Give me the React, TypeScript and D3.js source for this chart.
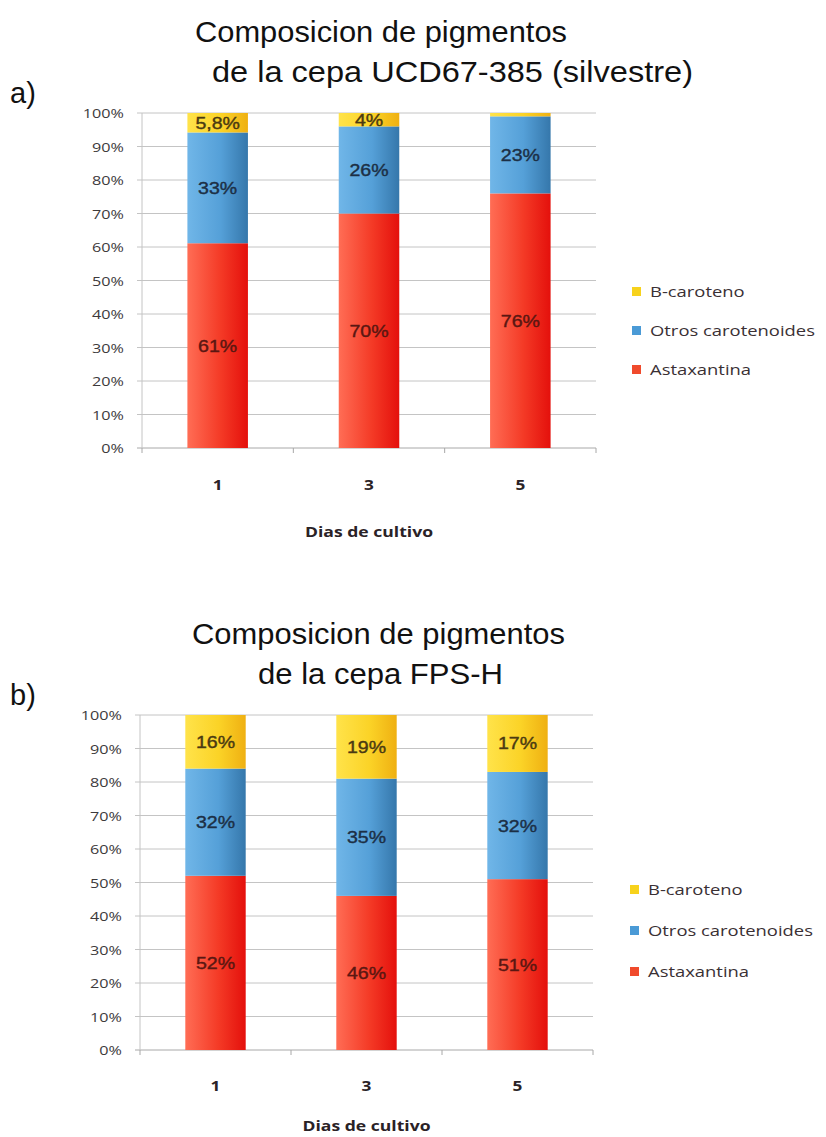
import React from 'react';
import * as d3 from 'd3';

// ---------- data ----------
const CATEGORIES = ['1', '3', '5'];
const SERIES = ['Astaxantina', 'Otros carotenoides', 'B-caroteno'];
const LEGEND_ORDER = ['B-caroteno', 'Otros carotenoides', 'Astaxantina'];

const A_ASTAXANTINA = [61, 70, 76];
const A_OTROS = [33, 26, 23];
const A_BETA = [5.8, 4, 1];

const B_ASTAXANTINA = [52, 46, 51];
const B_OTROS = [32, 35, 32];
const B_BETA = [16, 19, 17];

const Y_TICK_VALUES = [0, 0.1, 0.2, 0.3, 0.4, 0.5, 0.6, 0.7, 0.8, 0.9, 1];
const Y_TICK_LABELS = ['0%', '10%', '20%', '30%', '40%', '50%', '60%', '70%', '80%', '90%', '100%'];

const TITLE_A = ['Composicion de pigmentos', 'de la cepa UCD67-385 (silvestre)'];
const TITLE_B = ['Composicion de pigmentos', 'de la cepa FPS-H'];
const X_TITLE = 'Dias de cultivo';

const COLORS: Record<string, string[]> = {
  Astaxantina: ['#ff6d55', '#f43a26', '#e4100c'],
  'Otros carotenoides': ['#70b6e8', '#55a0d8', '#3577ab'],
  'B-caroteno': ['#ffe34a', '#fbd327', '#efb012'],
};
const LABEL_COLORS: Record<string, string> = {
  Astaxantina: '#5a1712',
  'Otros carotenoides': '#1c2f45',
  'B-caroteno': '#4a3a12',
};
const LEGEND_SWATCH: Record<string, string> = {
  Astaxantina: '#f04a2c',
  'Otros carotenoides': '#4a9ad6',
  'B-caroteno': '#f7d21c',
};

function fmt(v: number) {
  return (Number.isInteger(v) ? String(v) : String(v).replace('.', ',')) + '%';
}

type PanelProps = {
  id: string;
  astax: number[];
  otros: number[];
  beta: number[];
  left: number;
  right: number;
  top: number;
  bottom: number;
  title: string[];
  titleX: number[];
  titleW: number[];
  titleY: number[];
  letter: string;
  letterY: number;
  xLabelY: number;
  xTitleY: number;
  legendX: number;
  legendY: number[];
};

function SText(props: any) {
  const { x, y, sx = 1, children, ...rest } = props;
  return (
    <text transform={`translate(${x},${y}) scale(${sx},1)`} {...rest}>
      {children}
    </text>
  );
}

function Panel(p: PanelProps) {
  const rows = CATEGORIES.map((c, i) => ({
    cat: c,
    Astaxantina: p.astax[i],
    'Otros carotenoides': p.otros[i],
    'B-caroteno': p.beta[i],
  }));
  const stack = d3.stack<any>().keys(SERIES).offset(d3.stackOffsetExpand);
  const layers = stack(rows);
  const x = d3
    .scaleBand<string>()
    .domain(CATEGORIES)
    .range([p.left, p.right])
    .paddingInner(0.6)
    .paddingOuter(0.3);
  const step = x.step();
  const y = d3.scaleLinear().domain([0, 1]).range([p.bottom, p.top]);

  const tickFont = '"Open Sans", sans-serif';

  return (
    <g>
      <defs>
        {SERIES.map((s) => (
          <linearGradient key={s} id={`${p.id}-g-${s.replace(/\s/g, '')}`} x1="0" x2="1" y1="0" y2="0">
            <stop offset="0" stopColor={COLORS[s][0]} />
            <stop offset="0.55" stopColor={COLORS[s][1]} />
            <stop offset="1" stopColor={COLORS[s][2]} />
          </linearGradient>
        ))}
      </defs>

      {/* titles */}
      {p.title.map((t, i) => (
        <text
          key={i}
          x={p.titleX[i]}
          y={p.titleY[i]}
          fontFamily='"Liberation Sans", Arial, sans-serif'
          fontSize={30}
          fill="#111"
          textLength={p.titleW[i]}
          lengthAdjust="spacingAndGlyphs"
        >
          {t}
        </text>
      ))}
      <text x={10} y={p.letterY} fontFamily='"Liberation Sans", Arial, sans-serif' fontSize={29} fill="#111">
        {p.letter}
      </text>

      {/* gridlines */}
      {Y_TICK_VALUES.map((v, i) => (
        <g key={i}>
          <line x1={p.left - 5} x2={p.right} y1={y(v)} y2={y(v)} stroke={v === 0 ? '#a8a8a8' : '#c4c4c4'} strokeWidth={1} />
          <SText
            x={p.left - 18}
            y={y(v) + 5}
            sx={1.2}
            textAnchor="end"
            fontFamily={tickFont}
            fontSize={13.5}
            fill="#3d3a3c"
          >
            {Y_TICK_LABELS[i]}
          </SText>
        </g>
      ))}
      <line x1={p.left} x2={p.left} y1={p.top} y2={p.bottom} stroke="#c4c4c4" />
      {d3.range(CATEGORIES.length + 1).map((k) => (
        <line
          key={k}
          x1={p.left + k * step}
          x2={p.left + k * step}
          y1={p.bottom}
          y2={p.bottom + 5}
          stroke="#a8a8a8"
        />
      ))}

      {/* bars */}
      {layers.map((layer) => (
        <g key={layer.key}>
          {layer.map((d, i) => {
            const cat = CATEGORIES[i];
            return (
              <rect
                key={cat}
                x={x(cat)}
                width={x.bandwidth()}
                y={y(d[1])}
                height={y(d[0]) - y(d[1])}
                fill={`url(#${p.id}-g-${layer.key.replace(/\s/g, '')})`}
              />
            );
          })}
        </g>
      ))}

      {/* data labels */}
      {layers.map((layer) =>
        layer.map((d, i) => {
          const cat = CATEGORIES[i];
          const v = (d.data as any)[layer.key] as number;
          if (v < 2) return null;
          return (
            <SText
              key={layer.key + cat}
              x={(x(cat) as number) + x.bandwidth() / 2}
              y={y((d[0] + d[1]) / 2) + 6}
              sx={1.15}
              textAnchor="middle"
              fontFamily='"Liberation Sans", Arial, sans-serif'
              fontSize={17}
              fill={LABEL_COLORS[layer.key]}
              stroke={LABEL_COLORS[layer.key]}
              strokeWidth={0.4}
            >
              {fmt(v)}
            </SText>
          );
        })
      )}

      {/* x labels */}
      {CATEGORIES.map((c) => (
        <SText
          key={c}
          x={(x(c) as number) + x.bandwidth() / 2}
          y={p.xLabelY}
          sx={1.15}
          textAnchor="middle"
          fontFamily={tickFont}
          fontWeight="bold"
          fontSize={15}
          fill="#2a2226"
        >
          {c}
        </SText>
      ))}
      <text
        x={(p.left + p.right) / 2}
        y={p.xTitleY}
        textAnchor="middle"
        fontFamily={tickFont}
        fontWeight="bold"
        fontSize={14}
        fill="#2a2226"
        textLength={128}
        lengthAdjust="spacingAndGlyphs"
      >
        {X_TITLE}
      </text>

      {/* legend */}
      {LEGEND_ORDER.map((s, i) => (
        <g key={s}>
          <rect x={p.legendX} y={p.legendY[i] - 5} width={9} height={9} fill={LEGEND_SWATCH[s]} />
          <SText
            x={p.legendX + 18}
            y={p.legendY[i] + 5}
            sx={1.27}
            fontFamily={tickFont}
            fontSize={14.5}
            fill="#3a3034"
          >
            {s}
          </SText>
        </g>
      ))}
    </g>
  );
}

export default function App() {
  return (
    <svg
      width={826}
      height={1137}
      style={{ position: 'absolute', left: 0, top: 0, background: '#fff' }}
    >
      <rect width={826} height={1137} fill="#fff" />
      <Panel
        id="a"
        astax={A_ASTAXANTINA}
        otros={A_OTROS}
        beta={A_BETA}
        left={142}
        right={596}
        top={113}
        bottom={448}
        title={TITLE_A}
        titleX={[195, 212]}
        titleW={[372, 481]}
        titleY={[42, 82]}
        letter="a)"
        letterY={103}
        xLabelY={490}
        xTitleY={537}
        legendX={632}
        legendY={[292, 331, 370]}
      />
      <Panel
        id="b"
        astax={B_ASTAXANTINA}
        otros={B_OTROS}
        beta={B_BETA}
        left={140}
        right={593}
        top={715}
        bottom={1050}
        title={TITLE_B}
        titleX={[192, 258]}
        titleW={[373, 245]}
        titleY={[644, 684]}
        letter="b)"
        letterY={705}
        xLabelY={1091}
        xTitleY={1131}
        legendX={630}
        legendY={[890, 931, 972]}
      />
    </svg>
  );
}
